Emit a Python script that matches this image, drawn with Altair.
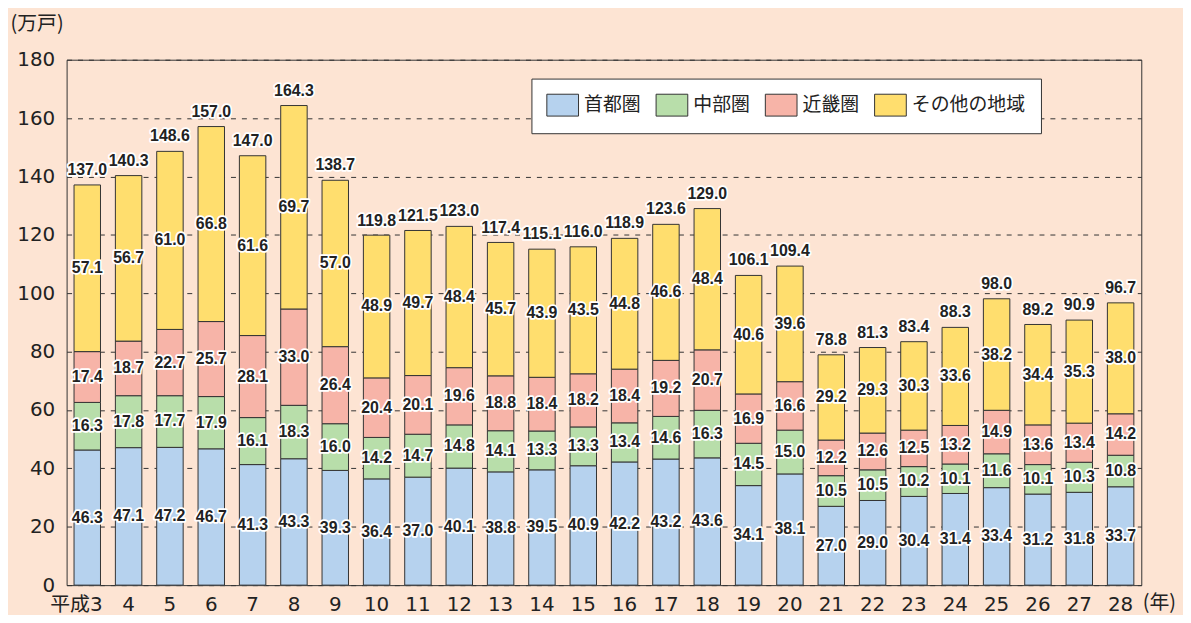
import altair as alt
import pandas as pd

years = ["平成3", "4", "5", "6", "7", "8", "9", "10", "11", "12", "13", "14", "15",
         "16", "17", "18", "19", "20", "21", "22", "23", "24", "25", "26", "27", "28"]
shuto = [46.3, 47.1, 47.2, 46.7, 41.3, 43.3, 39.3, 36.4, 37.0, 40.1, 38.8, 39.5, 40.9,
         42.2, 43.2, 43.6, 34.1, 38.1, 27.0, 29.0, 30.4, 31.4, 33.4, 31.2, 31.8, 33.7]
chubu = [16.3, 17.8, 17.7, 17.9, 16.1, 18.3, 16.0, 14.2, 14.7, 14.8, 14.1, 13.3, 13.3,
         13.4, 14.6, 16.3, 14.5, 15.0, 10.5, 10.5, 10.2, 10.1, 11.6, 10.1, 10.3, 10.8]
kinki = [17.4, 18.7, 22.7, 25.7, 28.1, 33.0, 26.4, 20.4, 20.1, 19.6, 18.8, 18.4, 18.2,
         18.4, 19.2, 20.7, 16.9, 16.6, 12.2, 12.6, 12.5, 13.2, 14.9, 13.6, 13.4, 14.2]
other = [57.1, 56.7, 61.0, 66.8, 61.6, 69.7, 57.0, 48.9, 49.7, 48.4, 45.7, 43.9, 43.5,
         44.8, 46.6, 48.4, 40.6, 39.6, 29.2, 29.3, 30.3, 33.6, 38.2, 34.4, 35.3, 38.0]
totals = [137.0, 140.3, 148.6, 157.0, 147.0, 164.3, 138.7, 119.8, 121.5, 123.0, 117.4, 115.1, 116.0,
          118.9, 123.6, 129.0, 106.1, 109.4, 78.8, 81.3, 83.4, 88.3, 98.0, 89.2, 90.9, 96.7]
regions = ["首都圏", "中部圏", "近畿圏", "その他の地域"]
colors = ["#B6D2EE", "#B8DEAA", "#F7B4A8", "#FFDE6E"]

rows = []
for i, y in enumerate(years):
    for k, vals in enumerate([shuto, chubu, kinki, other]):
        rows.append({"year": y, "region": regions[k], "order": k, "value": vals[i]})
df = pd.DataFrame(rows)
tot = pd.DataFrame({"year": years, "total": totals})

AXFONT = "DejaVu Sans, Noto Sans CJK JP"
VALFONT = "Liberation Sans"
JP = "Noto Sans CJK JP"
TXT = "#222222"

xenc = alt.X(
    "year:N", sort=years,
    scale=alt.Scale(paddingInner=0.36, paddingOuter=0.18),
    axis=alt.Axis(
        title="(年)", titleFont=JP, titleFontSize=20, titleFontWeight="normal",
        titleColor=TXT, titleAlign="left", titleBaseline="alphabetic",
        titleX=1083, titleY=24, titleAnchor="start",
        labelFont=AXFONT, labelFontSize=20, labelColor=TXT, labelAngle=0,
        labelBaseline="alphabetic", labelPadding=26,
        labelOffset=alt.condition("datum.label == '平成3'", alt.value(-11), alt.value(0)),
        ticks=False, tickSize=0, domain=False, grid=False,
    ),
)

bars = alt.Chart(df).mark_bar(stroke="#333333", strokeWidth=1).encode(
    x=xenc,
    y=alt.Y(
        "value:Q", stack="zero",
        scale=alt.Scale(domain=[0, 180], nice=False),
        axis=alt.Axis(
            values=list(range(0, 181, 20)), title="(万戸)", titleFont=JP,
            titleFontSize=20, titleFontWeight="normal", titleColor=TXT,
            titleAngle=0, titleAlign="left", titleBaseline="alphabetic",
            titleX=-57, titleY=-30,
            labelFont=AXFONT, labelFontSize=20, labelColor=TXT, labelPadding=12,
            ticks=False, tickSize=0, domain=False,
            grid=True, gridDash=[5, 6], gridColor="#333333", gridWidth=1,
        ),
    ),
    color=alt.Color(
        "region:N", sort=regions,
        scale=alt.Scale(domain=regions, range=colors),
        legend=alt.Legend(
            title=None, orient="none", legendX=468, legendY=19,
            direction="horizontal", columns=4,
            fillColor="white", strokeColor="#333333", padding=15,
            symbolType="M-1,-1H1.9V1H-1Z", symbolSize=484,
            symbolStrokeColor="#333333", symbolStrokeWidth=1, symbolOpacity=1,
            labelFont=JP, labelFontSize=19, labelColor=TXT, labelOffset=15,
            columnPadding=12, labelLimit=300,
        ),
    ),
    order=alt.Order("order:Q", sort="ascending"),
)

seg_base = alt.Chart(df).transform_stack(
    stack="value", groupby=["year"],
    sort=[alt.SortField("order", order="ascending")], as_=["v0", "v1"],
).transform_calculate(mid="(datum.v0 + datum.v1) / 2")

seg_enc = dict(
    x=alt.X("year:N", sort=years),
    y=alt.Y("mid:Q"),
    text=alt.Text("value:Q", format=".1f"),
)
seg_halo = seg_base.mark_text(
    font=VALFONT, fontSize=16, fontWeight="bold", baseline="middle",
    stroke="white", strokeWidth=3.5, strokeJoin="round", fill="white",
).encode(**seg_enc)
seg_text = seg_base.mark_text(
    font=VALFONT, fontSize=16, fontWeight="bold", baseline="middle", fill=TXT,
).encode(**seg_enc)

tot_enc = dict(
    x=alt.X("year:N", sort=years),
    y=alt.Y("total:Q"),
    text=alt.Text("total:Q", format=".1f"),
)
tot_halo = alt.Chart(tot).mark_text(
    font=VALFONT, fontSize=16, fontWeight="bold", baseline="alphabetic", dy=-10,
    stroke="white", strokeWidth=3.5, strokeJoin="round", fill="white",
).encode(**tot_enc)
tot_text = alt.Chart(tot).mark_text(
    font=VALFONT, fontSize=16, fontWeight="bold", baseline="alphabetic", dy=-10, fill=TXT,
).encode(**tot_enc)

chart = alt.layer(bars, seg_halo, seg_text, tot_halo, tot_text).properties(
    width=1082, height=529,
    autosize=alt.AutoSizeParams(type="none"),
    padding={"left": 59, "top": 50, "right": 42, "bottom": 28},
    background="#FDE4D3",
).configure_view(stroke="#333333", strokeWidth=1)

chart.save("out.html", embed_options={"renderer": "svg", "actions": False})
